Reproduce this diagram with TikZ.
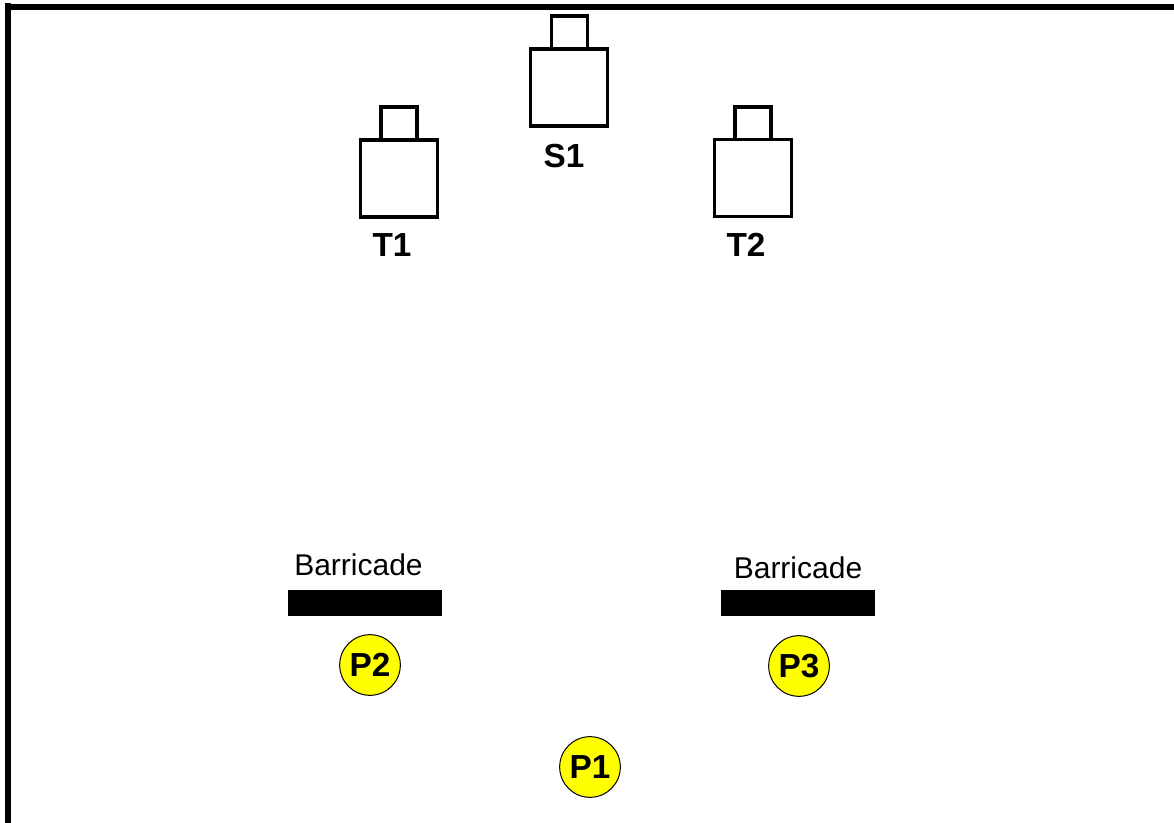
\documentclass[tikz,border=0pt]{standalone}
\usepackage{fontspec}
\setmainfont{Liberation Sans}
\usetikzlibrary{positioning}
\definecolor{puryellow}{RGB}{255,255,0}

\begin{document}
\begin{tikzpicture}[x=0.75pt,y=-0.75pt]
    % styles
    \tikzset{frameline/.style={line width=4.5pt},
        body/.style={rectangle,draw,fill=white,line width=2.7pt,minimum width=57.5pt,minimum height=58pt,inner sep=0pt},
        capbox/.style={rectangle,draw,line width=2.7pt,minimum width=27pt,minimum height=24.75pt,inner sep=0pt},
        tag/.style={font=\fontsize{25}{25}\bfseries\selectfont,inner sep=0pt},
        bar/.style={rectangle,fill=black,minimum width=115.5pt,minimum height=19.5pt,inner sep=0pt},
        barlabel/.style={font=\fontsize{22.5}{22.5}\selectfont,inner sep=0pt},
        person/.style={circle,draw,fill=puryellow,line width=0.75pt,minimum size=45.5pt,inner sep=0pt,font=\fontsize{25}{25}\bfseries\selectfont}}
    \useasboundingbox (0,0) rectangle (1174,823);

    % frame
    \coordinate (FrameA) at (8,3);
    \coordinate (FrameB) at (8,823);
    \coordinate (FrameC) at (5,7);
    \coordinate (FrameD) at (1174,7);
    \draw[frameline] (FrameA) -- (FrameB);
    \draw[frameline] (FrameC) -- (FrameD);

    % cameras
    \node[capbox] (S1c) at (569.5,32.5) {};
    \node[body] (S1) at (569,87.5) {};
    \node[tag] (S1t) at (564,156) {S1};

    \node[capbox] (T1c) at (399,123.5) {};
    \node[body] (T1) at (399,178.5) {};
    \node[tag] (T1t) at (392,245) {T1};

    \node[capbox] (T2c) at (753,123.5) {};
    \node[body] (T2) at (753,178) {};
    \node[tag] (T2t) at (746,245) {T2};

    % barricades
    \node[bar] (B1) at (365,603) {};
    \node[barlabel] (B1t) at (358.5,565) {Barricade};
    \node[bar] (B2) at (798,603) {};
    \node[barlabel] (B2t) at (798,568) {Barricade};

    % people
    \node[person] (P2) at (370,665) {P2};
    \node[person] (P3) at (799,666) {P3};
    \node[person] (P1) at (590,767) {P1};
\end{tikzpicture}
\end{document}
